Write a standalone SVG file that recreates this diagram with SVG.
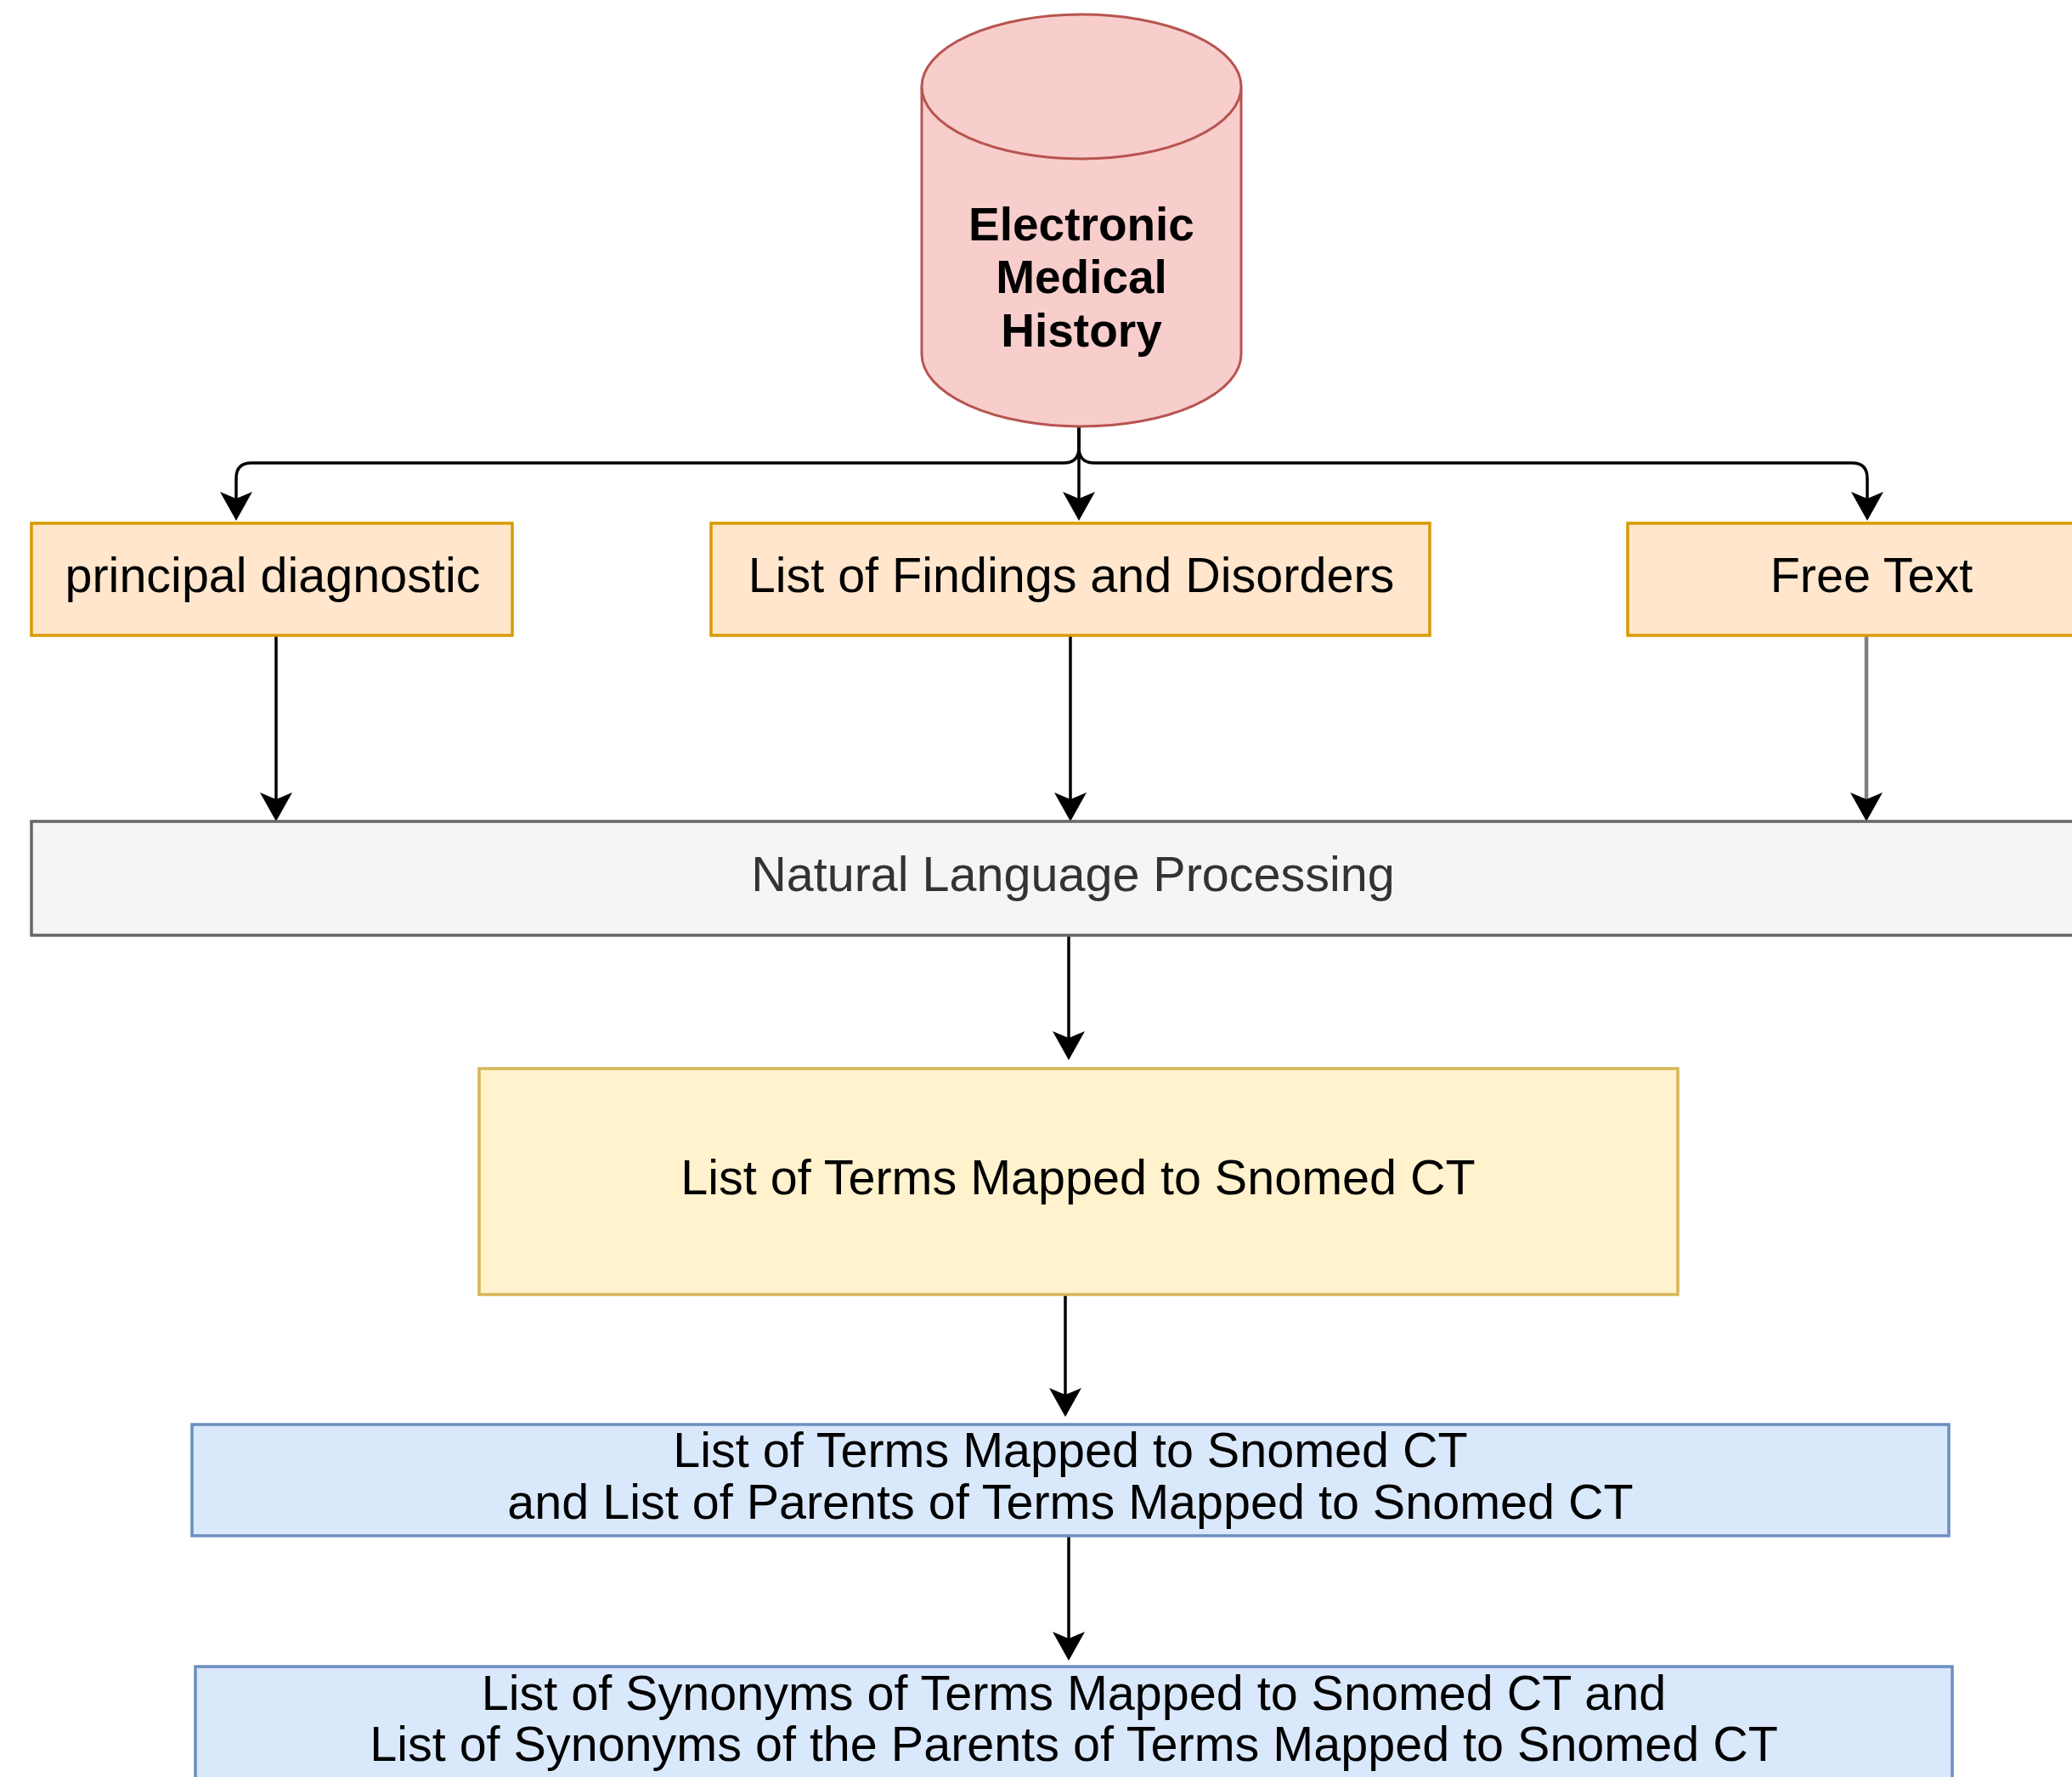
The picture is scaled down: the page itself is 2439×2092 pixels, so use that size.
<svg xmlns="http://www.w3.org/2000/svg" width="2439" height="2092" viewBox="0 0 2439 2092">
  <defs>
    <style>
      .lbl { font-family: "Liberation Sans", Arial, Helvetica, sans-serif; font-size: 57.5px; fill: #000000; text-anchor: middle; }
      .bold { font-weight: bold; font-size: 55px; }
      .grey { fill: #333333; }
      .orange { fill: #ffe6cc; stroke: #d79b00; stroke-width: 3.5; }
      .yellow { fill: #fff2cc; stroke: #d6b656; stroke-width: 3.5; }
      .blue { fill: #dae8fc; stroke: #6c8ebf; stroke-width: 3.5; }
      .neutral { fill: #f5f5f5; stroke: #666666; stroke-width: 3.5; }
      .cyl { fill: #f8cecc; stroke: #b85450; stroke-width: 3; }
      .edge { fill: none; stroke: #000000; stroke-width: 3.5; marker-end: url(#arrow); }
      .edge-grey { stroke: #7f7f7f; stroke-width: 4.5; }
    </style>
    <marker id="arrow" viewBox="0 -19 34 38" refX="8" refY="0" markerUnits="userSpaceOnUse" markerWidth="34" markerHeight="38" orient="auto">
      <path d="M0,-19 L34,0 L0,19 L8,0 Z" fill="#000000"/>
    </marker>
  </defs>

  <rect width="2439" height="2092" fill="#ffffff"/>

  <!-- connectors -->
  <g id="connectors">
    <path class="edge" d="M1270,502 V527 Q1270,545 1252,545 H296 Q278,545 278,563 V587"/>
    <path class="edge" d="M1270,502 V587"/>
    <path class="edge" d="M1270,502 V527 Q1270,545 1288,545 H2180 Q2198,545 2198,563 V587"/>
    <path class="edge" d="M325,748 V941"/>
    <path class="edge" d="M1260,748 V941"/>
    <path class="edge edge-grey" d="M2197,748 V941"/>
    <path class="edge" d="M1258,1101 V1222"/>
    <path class="edge" d="M1254,1524 V1642"/>
    <path class="edge" d="M1258,1808 V1929"/>
  </g>

  <!-- database cylinder -->
  <g id="emr">
    <path class="cyl" d="M1085,102 A188,85 0 0 1 1461,102 V417 A188,85 0 0 1 1085,417 Z"/>
    <path class="cyl" d="M1085,102 A188,85 0 0 0 1461,102" fill="none"/>
    <text class="lbl bold" x="1273" y="283">Electronic</text>
    <text class="lbl bold" x="1273" y="345">Medical</text>
    <text class="lbl bold" x="1273" y="408">History</text>
  </g>

  <g id="principal">
    <rect class="orange" x="37" y="616" width="566" height="132"/>
    <text class="lbl" x="321" y="697">principal diagnostic</text>
  </g>

  <g id="findings">
    <rect class="orange" x="837" y="616" width="846" height="132"/>
    <text class="lbl" x="1261" y="697">List of Findings and Disorders</text>
  </g>

  <g id="freetext">
    <rect class="orange" x="1916" y="616" width="574" height="132"/>
    <text class="lbl" x="2203" y="697">Free Text</text>
  </g>

  <g id="nlp">
    <rect class="neutral" x="37" y="967" width="2452" height="134"/>
    <text class="lbl grey" x="1263" y="1049">Natural Language Processing</text>
  </g>

  <g id="mapped">
    <rect class="yellow" x="564" y="1258" width="1411" height="266"/>
    <text class="lbl" x="1269" y="1406">List of Terms Mapped to Snomed CT</text>
  </g>

  <g id="parents">
    <rect class="blue" x="226" y="1677" width="2068" height="131"/>
    <text class="lbl" x="1260" y="1727">List of Terms Mapped to Snomed CT</text>
    <text class="lbl" x="1260" y="1788">and List of Parents of Terms Mapped to Snomed CT</text>
  </g>

  <g id="synonyms">
    <rect class="blue" x="230" y="1962" width="2068" height="134"/>
    <text class="lbl" x="1264" y="2013">List of Synonyms of Terms Mapped to Snomed CT and</text>
    <text class="lbl" x="1264" y="2073">List of Synonyms of the Parents of Terms Mapped to Snomed CT</text>
  </g>
</svg>
